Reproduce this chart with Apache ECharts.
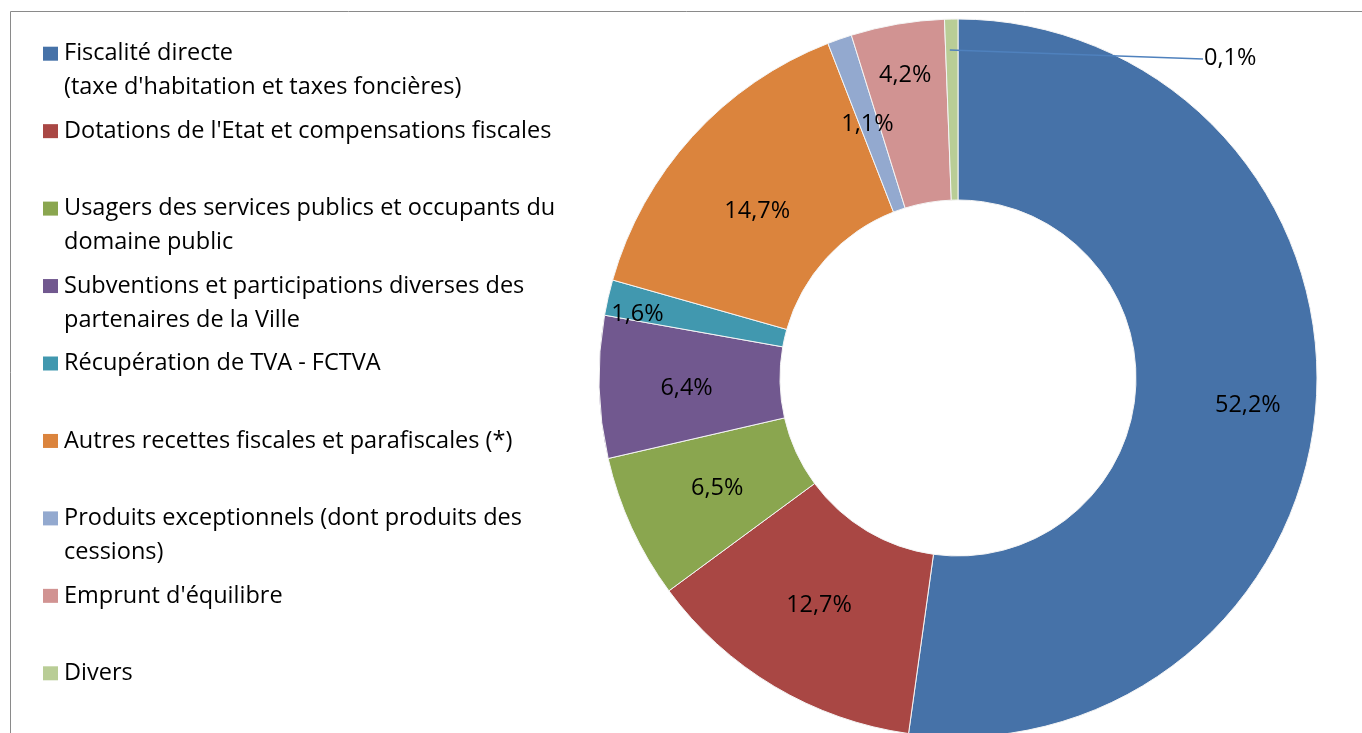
<!DOCTYPE html>
<html>
<head>
<meta charset="utf-8">
<script src="https://cdn.jsdelivr.net/npm/echarts@6/dist/echarts.min.js"></script>
<style>
  html, body { margin: 0; padding: 0; background: #fff; }
  #main { width: 1362px; height: 733px; }
</style>
</head>
<body>
<div id="main"></div>
<script>
// catégories (ordre des parts, sens horaire depuis midi)
const categories = [
  "Fiscalité directe\n(taxe d'habitation et taxes foncières)",
  "Dotations de l'Etat et compensations fiscales",
  "Usagers des services publics et occupants du\ndomaine public",
  "Subventions et participations diverses des\npartenaires de la Ville",
  "Récupération de TVA - FCTVA",
  "Autres recettes fiscales et parafiscales (*)",
  "Produits exceptionnels (dont produits des\ncessions)",
  "Emprunt d'équilibre",
  "Divers"
]
const values = [52.2, 12.7, 6.5, 6.4, 1.6, 14.7, 1.1, 4.2, 0.6]
const pctLabels = ['52,2%', '12,7%', '6,5%', '6,4%', '1,6%', '14,7%', '1,1%', '4,2%', '0,1%']
const colors = ['#4672A8', '#A94744', '#8AA64F', '#71588F', '#4198AF', '#DB843D', '#93A9CF', '#D19392', '#B9CD96']
// décalage des étiquettes (placement façon Excel)
const labelShift = [[19, 9], [0, -6], [6, -3], [0, 3], [-56, -3], [0, 16], [-1, 3], [-7, -35], [0, 0]]

const font = "'Open Sans', 'DejaVu Sans', sans-serif"
const lastIdx = categories.length - 1
const divLabelPos = [1204, 58]

let chart = echarts.init(document.getElementById('main'), null, {renderer: 'canvas'})

const pieData = categories.map((name, i) => {
  let item = {name: name, value: values[i]}
  if (i === lastIdx) item.label = {position: 'outside'}
  return item
})

const option = {
  animation: false,
  color: colors,
  graphic: [
    {
      type: 'rect',
      silent: true,
      shape: {x: 10.5, y: 11.5, width: 1400, height: 800},
      style: {fill: 'none', stroke: '#8a8a8a', lineWidth: 1}
    }
  ],
  legend: {
    orient: 'vertical',
    left: 43,
    top: 2.7,
    padding: 0,
    itemGap: -24.55,
    itemWidth: 15,
    itemHeight: 14,
    icon: 'rect',
    selectedMode: false,
    itemStyle: {borderWidth: 0},
    data: categories,
    // ligne vide avant (et après) pour aligner le carré sur la 1re ligne
    formatter: name => name.indexOf('\n') >= 0 ? '\n' + name : '\n' + name + '\n',
    textStyle: {
      fontFamily: font,
      fontSize: 23.5,
      lineHeight: 34,
      color: '#000',
      padding: [0, 0, 0, 1]
    }
  },
  series: [
    {
      type: 'pie',
      center: [958, 378],
      radius: [178, 359],
      startAngle: 90,
      clockwise: true,
      avoidLabelOverlap: false,
      itemStyle: {borderColor: '#f4f4f4', borderWidth: 1},
      label: {
        show: true,
        position: 'inside',
        fontFamily: font,
        fontSize: 23.5,
        color: '#000',
        formatter: p => pctLabels[p.dataIndex]
      },
      labelLine: {show: false},
      labelLayout: function (params) {
        const i = params.dataIndex
        if (i === lastIdx) {
          return {x: divLabelPos[0], y: divLabelPos[1], align: 'left', verticalAlign: 'middle'}
        }
        return {dx: labelShift[i][0], dy: labelShift[i][1]}
      },
      emphasis: {disabled: true},
      data: pieData
    }
  ]
}

chart.setOption(option)

// trait de rappel de "Divers", depuis l'intérieur de la part calculée par ECharts
const lay = chart.getModel().getSeriesByIndex(0).getData().getItemLayout(lastIdx)
const mid = (lay.startAngle + lay.endAngle) / 2
const rr = lay.r - 31
chart.getZr().add(new echarts.graphic.Line({
  silent: true,
  z: 100,
  shape: {
    x1: lay.cx + rr * Math.cos(mid) - 2, y1: lay.cy + rr * Math.sin(mid),
    x2: divLabelPos[0] - 1, y2: divLabelPos[1] + 1
  },
  style: {stroke: '#4F81BD', lineWidth: 1.5}
}))
</script>
</body>
</html>
